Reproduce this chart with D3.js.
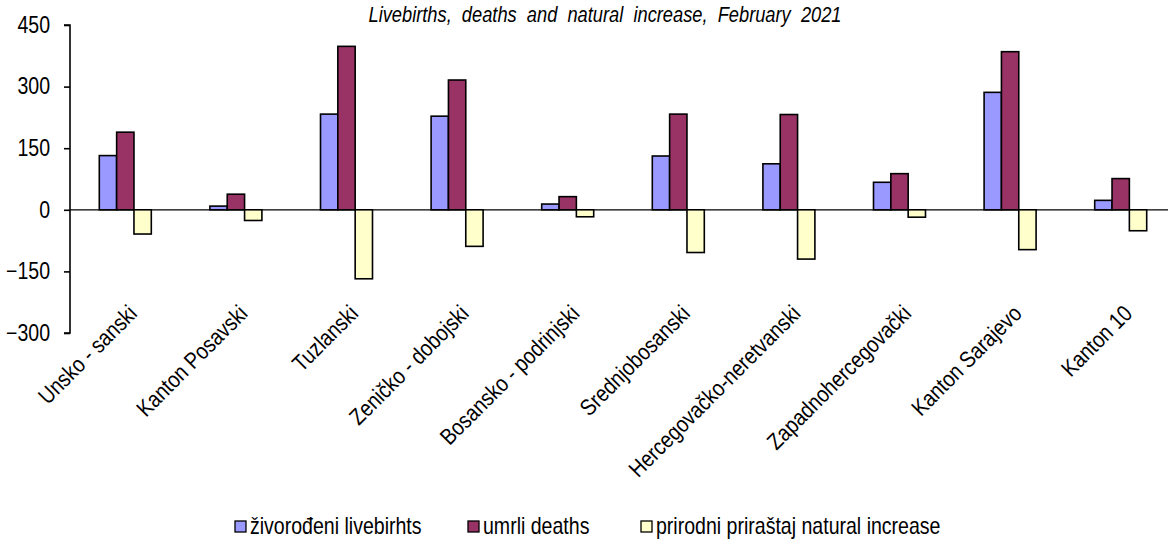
<!DOCTYPE html>
<html>
<head>
<meta charset="utf-8">
<script src="https://cdn.jsdelivr.net/npm/d3@7"></script>
<style>
  body { margin: 0; background: #fff; }
  svg { display: block; font-family: "Liberation Sans", Arial, sans-serif; }
  .bar { stroke: #000; stroke-width: 1.6; }
</style>
</head>
<body>
<svg id="chart" width="1168" height="540"></svg>
<script>
var cantons = ["Unsko - sanski", "Kanton Posavski", "Tuzlanski", "Zeničko - dobojski",
  "Bosansko - podrinjski", "Srednjobosanski", "Hercegovačko-neretvanski",
  "Zapadnohercegovački", "Kanton Sarajevo", "Kanton 10"];
var livebirths = [132, 9, 233, 228, 14, 131, 112, 67, 286, 23];
var deaths = [189, 38, 398, 316, 32, 233, 232, 88, 385, 76];
var naturalIncrease = [-59, -26, -168, -89, -17, -104, -120, -18, -97, -51];
var seriesNames = ["živorođeni livebirhts", "umrli deaths", "prirodni priraštaj natural increase"];
var seriesColors = ["#9999ff", "#993366", "#ffffcc"];
var yTicks = [450, 300, 150, 0, -150, -300];
var title = "Livebirths,  deaths  and  natural  increase,  February  2021";

// fonts in the original are narrow, squeeze them a bit
var NARROW = 0.85;

var series = [livebirths, deaths, naturalIncrease];
var data = cantons.map(function(c, i) {
    return { name: c, values: series.map(function(s) { return s[i]; }) };
});

var svg = d3.select("#chart");

var x = d3.scaleBand()
    .domain(cantons)
    .range([70, 1176]);

var x1 = d3.scaleBand()
    .domain([0, 1, 2])
    .range([0, 52]);

var y = d3.scaleLinear()
    .domain([-300, 450])
    .range([333, 25]);

svg.append("text")
    .attr("transform", "translate(605,22) scale(" + NARROW + ",1)")
    .attr("text-anchor", "middle")
    .attr("font-size", 21.5)
    .attr("font-style", "italic")
    .style("white-space", "pre")
    .text(title);

// zero line
svg.append("line")
    .attr("x1", 70)
    .attr("x2", 1176)
    .attr("y1", y(0))
    .attr("y2", y(0))
    .attr("stroke", "#000")
    .attr("stroke-width", 1.2);

var groups = svg.selectAll(".group")
    .data(data)
    .enter().append("g")
    .attr("class", "group")
    .attr("transform", function(d) {
        return "translate(" + (x(d.name) + x.bandwidth() / 2 - 26) + ",0)";
    });

groups.selectAll("rect")
    .data(function(d) { return d.values; })
    .enter().append("rect")
    .attr("class", "bar")
    .attr("x", function(d, i) { return x1(i); })
    .attr("width", x1.bandwidth())
    .attr("y", function(d) { return d > 0 ? y(d) : y(0); })
    .attr("height", function(d) { return Math.abs(y(d) - y(0)); })
    .attr("fill", function(d, i) { return seriesColors[i]; });

var yAxis = d3.axisLeft(y)
    .tickValues(yTicks)
    .tickSize(6);

var yG = svg.append("g")
    .attr("transform", "translate(70,0)")
    .call(yAxis);
yG.select(".domain").attr("stroke", "#000").attr("stroke-width", 1.6)
    .attr("d", "M-6," + y(450) + "H0V" + y(-300) + "H-6");
yG.selectAll(".tick line").attr("stroke", "#000").attr("stroke-width", 1.6);
yG.selectAll(".tick text")
    .attr("font-size", 23)
    .attr("font-family", "Liberation Sans, Arial, sans-serif")
    .attr("fill", "#000")
    .attr("x", -20 / NARROW)
    .attr("transform", "scale(" + NARROW + ",1)");

// category labels
svg.selectAll(".cat")
    .data(cantons)
    .enter().append("text")
    .attr("class", "cat")
    .attr("text-anchor", "end")
    .attr("font-size", 23)
    .attr("transform", function(d) {
        return "translate(" + (x(d) + x.bandwidth() / 2 + 13) + ",315) rotate(-45) scale(" + NARROW + ",1)";
    })
    .text(function(d) { return d; });

// legend
var legendX = [235, 468, 641];
var legend = svg.selectAll(".legend")
    .data(seriesNames)
    .enter().append("g")
    .attr("class", "legend")
    .attr("transform", function(d, i) { return "translate(" + legendX[i] + ",521)"; });
legend.append("rect")
    .attr("width", 11)
    .attr("height", 11)
    .attr("stroke", "#000")
    .attr("stroke-width", 1.3)
    .attr("fill", function(d, i) { return seriesColors[i]; });
legend.append("text")
    .attr("transform", "translate(15,13) scale(" + NARROW + ",1)")
    .attr("font-size", 23)
    .text(function(d) { return d; });
</script>
</body>
</html>
